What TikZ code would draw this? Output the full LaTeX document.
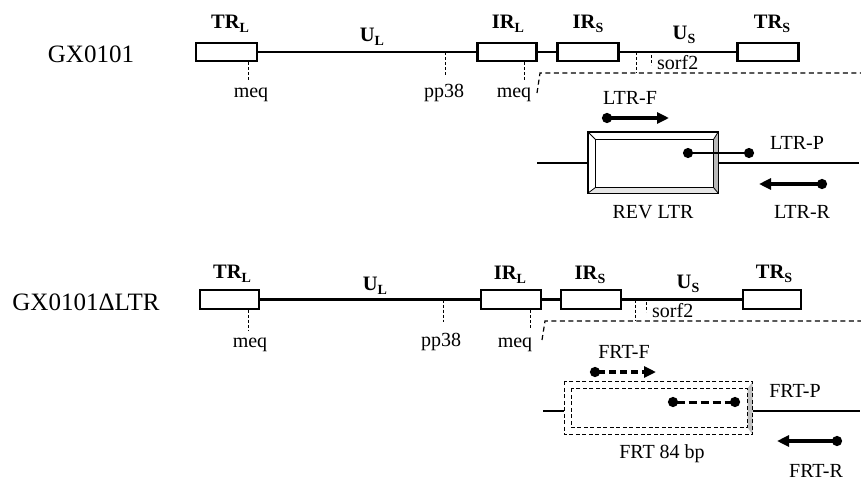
\documentclass[tikz,border=0pt]{standalone}
\usepackage{fontspec}
\setmainfont{Liberation Serif}
\usetikzlibrary{arrows.meta}
\newcommand\mysub[1]{\raisebox{-4.5pt}{\fontsize{14}{14}\selectfont #1}}
\begin{document}
\begin{tikzpicture}[x=1pt,y=-1pt,
 gbox/.style={draw,line width=2.4pt,fill=white,minimum height=18.5pt,inner sep=0pt},
 mainline/.style={line width=2.3pt},
 tick/.style={line width=1pt,dash pattern=on 3pt off 2pt},
 zoomline/.style={line width=1.2pt,dash pattern=on 5pt off 3.5pt},
 lbl/.style={font=\fontsize{20}{24}\selectfont,anchor=base,inner sep=0pt},
 seglbl/.style={lbl,font=\fontsize{20.5}{24}\selectfont\bfseries},
 glbl/.style={lbl,font=\fontsize{25}{30}\selectfont},
 primer/.style={line width=3.2pt,{Circle[length=10pt]}-{Triangle[length=12pt,width=11pt]}},
 probe/.style={line width=2.4pt,{Circle[length=10pt]}-{Circle[length=10pt]}},
 dashprimer/.style={primer,dash pattern=on 7pt off 4pt},
 dashprobe/.style={probe,line width=3pt,dash pattern=on 8pt off 4pt},
 frtdash/.style={line width=1.5pt,dash pattern=on 4pt off 2.5pt}]
\useasboundingbox[fill=white] (0,0) rectangle (861,480);

% ================= top panel =================
\node[glbl] (g1) at (91,62) {GX0101};
\node[gbox,minimum width=61pt] (trl1) at (226.5,52) {};
\node[gbox,minimum width=59pt] (irl1) at (507,52) {};
\node[gbox,minimum width=61pt] (irs1) at (588,52) {};
\node[gbox,minimum width=61pt] (trs1) at (768,52) {};
\draw[mainline] (trl1) -- (irl1);
\draw[mainline] (irl1) -- (irs1);
\draw[mainline] (irs1) -- (trs1);

\node[seglbl] (trl1l) at (230,28) {TR\mysub{L}};
\node[seglbl] (ul1) at (372,41) {U\mysub{L}};
\node[seglbl] (irl1l) at (508,28) {IR\mysub{L}};
\node[seglbl] (irs1l) at (588,28) {IR\mysub{S}};
\node[seglbl] (us1) at (684,39) {U\mysub{S}};
\node[seglbl] (trs1l) at (772,28) {TR\mysub{S}};

\node[lbl] (meq1) at (251,97) {meq};
\coordinate (t1) at (248,82);
\draw[tick] (t1 |- trl1.south) -- (t1);
\node[lbl] (pp1) at (444,97) {pp38};
\coordinate (t2) at (445,75);
\draw[tick] (t2 |- trl1.center) -- (t2);
\node[lbl] (meq2) at (514,97) {meq};
\coordinate (t3) at (524,82);
\draw[tick] (t3 |- irl1.south) -- (t3);

\node[lbl,anchor=base west] (sorf1) at (657,69) {sorf2};
\coordinate (z1a) at (537,93);
\coordinate (z1b) at (540,73);
\coordinate (z1c) at (861,73);
\draw[zoomline] (z1a) -- (z1b) -- (z1c);
\coordinate (s1) at (636,73);
\draw[tick] (s1 |- trl1.center) -- (s1);
\coordinate (s2a) at (651,55);
\coordinate (s2b) at (651,65);
\draw[tick] (s2a) -- (s2b);

% LTR detail
\node[lbl] (ltrfl) at (630,104) {LTR-F};
\coordinate (ltrf1) at (602,118);
\coordinate (ltrf2) at (669,118);
\draw[primer] (ltrf1) -- (ltrf2);

\coordinate (la) at (537,163);
\coordinate (lb) at (859,163);
\node[draw,line width=1.8pt,fill=white,minimum width=129pt,minimum height=60pt,inner sep=0pt] (rev) at (653,162.5) {};
\draw[mainline] (la) -- (la -| rev.west);
\draw[mainline] (lb -| rev.east) -- (lb);
\coordinate (ri1) at ([xshift=8pt,yshift=-8pt]rev.north west);
\coordinate (ri2) at ([xshift=-5pt,yshift=-8pt]rev.north east);
\coordinate (ri3) at ([xshift=-5pt,yshift=6pt]rev.south east);
\coordinate (ri4) at ([xshift=8pt,yshift=6pt]rev.south west);
\fill[gray!55] (rev.north east) -- (ri2) -- (ri3) -- (rev.south east) -- cycle;
\fill[gray!20] (rev.south west) -- (ri4) -- (ri3) -- (rev.south east) -- cycle;
\draw[line width=1.1pt] (ri1) rectangle (ri3);
\draw[line width=0.8pt] (rev.north west) -- (ri1) (rev.north east) -- (ri2)
  (rev.south east) -- (ri3) (rev.south west) -- (ri4);
\draw[line width=1.8pt] (rev.north west) rectangle (rev.south east);

\coordinate (ltrp1) at (683,153);
\coordinate (ltrp2) at (754,153);
\draw[probe] (ltrp1) -- (ltrp2);
\node[lbl] (ltrpl) at (797,149) {LTR-P};
\coordinate (ltrr1) at (827,184);
\coordinate (ltrr2) at (759,184);
\draw[primer] (ltrr1) -- (ltrr2);
\node[lbl] (revl) at (653,218) {REV LTR};
\node[lbl] (ltrrl) at (802,218) {LTR-R};

% ================= bottom panel =================
\node[glbl] (g2) at (86,310) {GX0101ΔLTR};
\node[gbox,minimum width=59pt] (trl2) at (229.5,299.5) {};
\node[gbox,minimum width=60pt] (irl2) at (511,299.5) {};
\node[gbox,minimum width=60pt] (irs2) at (591,299.5) {};
\node[gbox,minimum width=58pt] (trs2) at (772,299.5) {};
\draw[mainline] (trl2) -- (irl2);
\draw[mainline] (irl2) -- (irs2);
\draw[mainline] (irs2) -- (trs2);

\node[seglbl] (trl2l) at (232,278) {TR\mysub{L}};
\node[seglbl] (ul2) at (375,290) {U\mysub{L}};
\node[seglbl] (irl2l) at (510,279) {IR\mysub{L}};
\node[seglbl] (irs2l) at (590,279) {IR\mysub{S}};
\node[seglbl] (us2) at (688,288) {U\mysub{S}};
\node[seglbl] (trs2l) at (774,278) {TR\mysub{S}};

\node[lbl] (meq3) at (250,347) {meq};
\coordinate (t4) at (248,330);
\draw[tick] (t4 |- trl2.south) -- (t4);
\node[lbl] (pp2) at (441,346) {pp38};
\coordinate (t5) at (443,322);
\draw[tick] (t5 |- trl2.center) -- (t5);
\node[lbl] (meq4) at (515,347) {meq};
\coordinate (t6) at (530,328);
\draw[tick] (t6 |- irl2.south) -- (t6);

\node[lbl,anchor=base west] (sorf2) at (652,317) {sorf2};
\coordinate (z2a) at (542,340);
\coordinate (z2b) at (545,321);
\coordinate (z2c) at (861,321);
\draw[zoomline] (z2a) -- (z2b) -- (z2c);
\coordinate (s3) at (635,321);
\draw[tick] (s3 |- trl2.center) -- (s3);
\coordinate (s4a) at (646,302);
\coordinate (s4b) at (646,312);
\draw[tick] (s4a) -- (s4b);

% FRT detail
\node[lbl] (frtfl) at (624,358) {FRT-F};
\coordinate (frtf1) at (590,372);
\coordinate (frtf2) at (656,372);
\draw[dashprimer] (frtf1) -- (frtf2);

\coordinate (fa) at (543,411);
\coordinate (fb) at (860,411);
\node[fill=white,minimum width=188pt,minimum height=53pt,inner sep=0pt] (frt) at (658.5,408) {};
\draw[mainline] (fa) -- (fa -| frt.west);
\draw[mainline] (fb -| frt.east) -- (fb);
\coordinate (fi1) at ([xshift=7pt,yshift=-7pt]frt.north west);
\coordinate (fi2) at ([xshift=-5pt,yshift=-7pt]frt.north east);
\coordinate (fi3) at ([xshift=-5pt,yshift=7pt]frt.south east);
\fill[gray!50] (frt.north east) -- (fi2) -- (fi3) -- (frt.south east) -- cycle;
\draw[frtdash] (fi1) rectangle (fi3);
\draw[frtdash] (frt.north west) rectangle (frt.south east);

\coordinate (frtp1) at (668,402);
\coordinate (frtp2) at (740,402);
\draw[dashprobe] (frtp1) -- (frtp2);
\node[lbl] (frtpl) at (795,397) {FRT-P};
\coordinate (frtr1) at (842,441);
\coordinate (frtr2) at (777,441);
\draw[primer] (frtr1) -- (frtr2);
\node[lbl] (frtl) at (662,458) {FRT 84 bp};
\node[lbl] (frtrl) at (816,477) {FRT-R};
\end{tikzpicture}
\end{document}
